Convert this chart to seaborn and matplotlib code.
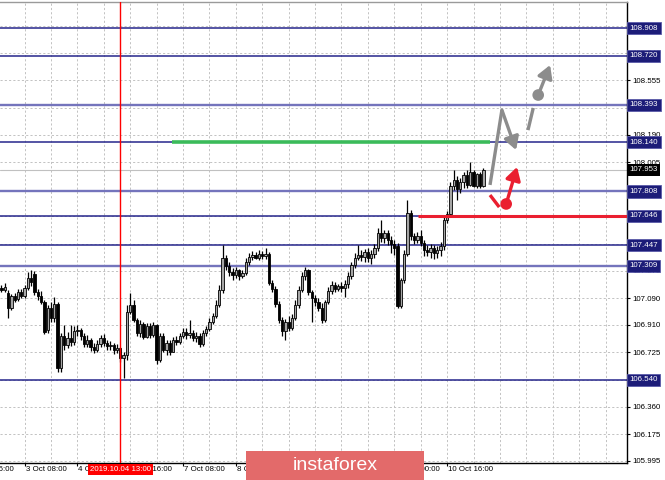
import numpy as np
import pandas as pd
import matplotlib
matplotlib.use("Agg")
import matplotlib.pyplot as plt
from matplotlib.patches import Rectangle
import seaborn as sns

# USDJPY H1 candles, 3 Oct 01:00 .. 11 Oct 03:00
first_bar = "2019-10-03 01:00"
opens = [
    107.159, 107.145, 107.125, 107.024, 107.105, 107.085, 107.132, 107.105, 107.159, 107.226,
    107.253, 107.132, 107.105, 107.064, 106.876, 107.024, 106.957, 107.051, 106.621, 106.836,
    106.775, 106.822, 106.795, 106.870, 106.876, 106.836, 106.782, 106.809, 106.762, 106.742,
    106.782, 106.822, 106.789, 106.769, 106.775, 106.742, 106.755, 106.688, 106.708, 106.997,
    107.044, 106.944, 106.856, 106.917, 106.829, 106.903, 106.843, 106.910, 106.674, 106.836,
    106.742, 106.789, 106.728, 106.809, 106.795, 106.836, 106.863, 106.843, 106.856, 106.822,
    106.836, 106.782, 106.856, 106.883, 106.930, 106.970, 107.044, 107.145, 107.361, 107.307,
    107.266, 107.246, 107.280, 107.239, 107.260, 107.334, 107.367, 107.381, 107.361, 107.387,
    107.374, 107.387, 107.192, 107.152, 107.051, 106.944, 106.870, 106.930, 106.890, 106.957,
    107.044, 107.145, 107.239, 107.280, 107.132, 107.091, 107.064, 107.024, 106.944, 107.064,
    107.138, 107.179, 107.152, 107.172, 107.159, 107.186, 107.239, 107.313, 107.361, 107.381,
    107.367, 107.401, 107.361, 107.387, 107.428, 107.528, 107.495, 107.528, 107.482, 107.455,
    107.441, 107.038, 107.213, 107.387, 107.663, 107.508, 107.482, 107.508, 107.461, 107.414,
    107.401, 107.428, 107.394, 107.414, 107.441, 107.616, 107.656, 107.845, 107.885, 107.825,
    107.872, 107.919, 107.852, 107.939, 107.845, 107.926, 107.845,
]
highs = [
    107.179, 107.192, 107.145, 107.118, 107.125, 107.152, 107.152, 107.179, 107.266, 107.280,
    107.273, 107.152, 107.138, 107.078, 107.044, 107.064, 107.098, 107.064, 106.856, 106.910,
    106.863, 106.910, 106.903, 106.910, 106.890, 106.856, 106.843, 106.822, 106.789, 106.809,
    106.843, 106.849, 106.809, 106.802, 106.789, 106.782, 106.762, 106.728, 107.044, 107.125,
    107.078, 106.957, 106.944, 106.930, 106.923, 106.923, 106.930, 106.917, 106.856, 106.856,
    106.809, 106.809, 106.829, 106.836, 106.856, 106.890, 106.890, 106.944, 106.876, 106.863,
    106.856, 106.876, 106.903, 106.957, 106.991, 107.078, 107.179, 107.448, 107.381, 107.334,
    107.293, 107.300, 107.287, 107.280, 107.361, 107.394, 107.408, 107.401, 107.414, 107.408,
    107.428, 107.401, 107.213, 107.172, 107.071, 106.964, 106.950, 106.970, 106.984, 107.078,
    107.172, 107.266, 107.300, 107.287, 107.145, 107.112, 107.091, 107.058, 107.078, 107.165,
    107.206, 107.199, 107.186, 107.199, 107.213, 107.266, 107.334, 107.394, 107.448, 107.414,
    107.421, 107.428, 107.414, 107.455, 107.562, 107.616, 107.549, 107.549, 107.508, 107.482,
    107.461, 107.226, 107.414, 107.751, 107.683, 107.528, 107.535, 107.549, 107.482, 107.448,
    107.455, 107.448, 107.441, 107.468, 107.636, 107.677, 107.872, 107.953, 107.912, 107.899,
    107.939, 107.953, 108.006, 107.953, 107.932, 107.939, 107.966,
]
lows = [
    107.132, 107.132, 106.957, 107.011, 107.064, 107.071, 107.091, 107.091, 107.145, 107.172,
    107.112, 107.078, 107.051, 106.849, 106.856, 106.930, 106.930, 106.594, 106.594, 106.742,
    106.755, 106.769, 106.775, 106.836, 106.809, 106.762, 106.762, 106.735, 106.721, 106.728,
    106.762, 106.769, 106.742, 106.742, 106.715, 106.721, 106.661, 106.553, 106.674, 106.984,
    106.930, 106.836, 106.829, 106.816, 106.822, 106.822, 106.829, 106.647, 106.661, 106.728,
    106.708, 106.708, 106.728, 106.775, 106.782, 106.822, 106.816, 106.822, 106.802, 106.795,
    106.762, 106.769, 106.836, 106.870, 106.917, 106.957, 107.031, 107.125, 107.280, 107.239,
    107.213, 107.226, 107.213, 107.226, 107.246, 107.313, 107.347, 107.354, 107.347, 107.354,
    107.354, 107.179, 107.132, 107.031, 106.923, 106.836, 106.809, 106.870, 106.876, 106.944,
    107.024, 107.132, 107.213, 107.112, 106.930, 107.038, 107.004, 106.923, 106.930, 107.051,
    107.118, 107.132, 107.138, 107.132, 107.098, 107.159, 107.219, 107.293, 107.347, 107.340,
    107.334, 107.334, 107.320, 107.361, 107.408, 107.468, 107.461, 107.448, 107.394, 107.381,
    107.024, 107.024, 107.192, 107.374, 107.482, 107.455, 107.461, 107.441, 107.374, 107.374,
    107.361, 107.354, 107.361, 107.374, 107.414, 107.596, 107.636, 107.818, 107.751, 107.798,
    107.831, 107.831, 107.845, 107.838, 107.831, 107.831, 107.838,
]
closes = [
    107.145, 107.165, 107.024, 107.105, 107.078, 107.132, 107.105, 107.159, 107.226, 107.199,
    107.132, 107.105, 107.064, 106.863, 107.024, 106.957, 107.051, 106.621, 106.836, 106.775,
    106.822, 106.795, 106.870, 106.876, 106.836, 106.782, 106.809, 106.762, 106.742, 106.782,
    106.822, 106.789, 106.769, 106.775, 106.742, 106.755, 106.688, 106.708, 106.997, 107.044,
    106.944, 106.856, 106.917, 106.829, 106.903, 106.843, 106.910, 106.674, 106.836, 106.742,
    106.789, 106.728, 106.809, 106.795, 106.836, 106.863, 106.843, 106.856, 106.822, 106.836,
    106.782, 106.856, 106.883, 106.930, 106.970, 107.044, 107.145, 107.361, 107.307, 107.266,
    107.246, 107.280, 107.239, 107.260, 107.334, 107.367, 107.381, 107.361, 107.387, 107.374,
    107.387, 107.192, 107.152, 107.051, 106.944, 106.870, 106.930, 106.890, 106.957, 107.044,
    107.145, 107.239, 107.280, 107.132, 107.091, 107.064, 107.024, 106.944, 107.064, 107.138,
    107.179, 107.152, 107.172, 107.159, 107.186, 107.239, 107.313, 107.361, 107.381, 107.367,
    107.401, 107.361, 107.387, 107.428, 107.528, 107.495, 107.528, 107.482, 107.455, 107.428,
    107.038, 107.213, 107.387, 107.663, 107.508, 107.482, 107.508, 107.461, 107.414, 107.401,
    107.428, 107.394, 107.414, 107.441, 107.616, 107.656, 107.845, 107.885, 107.825, 107.872,
    107.919, 107.852, 107.939, 107.845, 107.926, 107.845, 107.953,
]

# horizontal levels drawn on the chart
levels_dark = [108.908, 108.720, 108.140, 107.646, 107.447, 106.540]
levels_light = [108.393, 107.808, 107.309]
bid_price = 107.953
green_level = 108.140
red_level = 107.640
price_ticks = [105.995, 106.175, 106.360, 106.540, 106.725, 106.910, 107.090, 107.275,
               107.455, 107.640, 107.820, 108.005, 108.190, 108.370, 108.555, 108.740, 108.920]
cross_time = "2019-10-04 13:00"

# forecast arrows, (bar, price)
grey_zigzag = [(148.0, 107.852), (151.6, 108.356), (155.9, 108.087)]
grey_dash = [(159.5, 108.221), (161.1, 108.370)]
grey_dot, grey_tip = (162.6, 108.457), (166.2, 108.659)
red_dash = [(148.0, 107.784), (150.8, 107.703)]
red_dot, red_tip = (152.9, 107.724), (156.2, 107.973)

sns.set_theme(style="white")
plt.rcParams['font.family'] = ['Liberation Sans', 'DejaVu Sans']
FS = 5.7
GREY = "#8c8c8c"
RED = "#ea1f30"

fig = plt.figure(figsize=(6.65, 4.8), dpi=100)
ax = fig.add_axes([0, 17 / 480, 627 / 665, 461 / 480])
ax.set_facecolor("white")

# hourly time axis without weekends
hours = pd.date_range("2019-10-02 16:00", periods=400, freq="h")
hours = hours[hours.dayofweek < 5]
shift = hours.get_loc(pd.Timestamp(first_bar))
n = len(closes)
xs = np.arange(n)

x_max = 189.5
grid_pos = np.arange(-shift, x_max, 8)
label_pos = np.arange(-shift, n, 16)

for g in grid_pos:
    ax.axvline(g, color="#c2c2c2", lw=0.7, ls=(0, (2.2, 2.2)), zorder=0.5)
for p in price_ticks:
    ax.axhline(p, color="#c2c2c2", lw=0.7, ls=(0, (2.2, 2.2)), zorder=0.5)

for lv in levels_dark:
    ax.axhline(lv, color="#26268c", lw=1.1, zorder=2)
for lv in levels_light:
    ax.axhline(lv, color="#7474bc", lw=1.7, zorder=2)
ax.axhline(bid_price, color="#c0c0c0", lw=0.8, zorder=2)

# candles
o = np.array(opens)
c = np.array(closes)
up = c >= o
ax.vlines(xs, lows, highs, color="black", lw=0.9, zorder=3)
ax.bar(xs[up], np.maximum(c - o, 0.002)[up], bottom=o[up], width=0.7,
       color="#a6a6a6", edgecolor="black", lw=0.6, zorder=4)
ax.bar(xs[~up], (o - c)[~up], bottom=c[~up], width=0.7,
       color="black", edgecolor="black", lw=0.6, zorder=4)

# crosshair
cross_x = hours.get_loc(pd.Timestamp(cross_time)) - shift
ax.axvline(cross_x, color="red", lw=1.0, zorder=5)

# support / resistance marks
ax.hlines(green_level, 51.6, 148, color="#3bbb5a", lw=2.6, zorder=5)
ax.hlines(red_level, 126.2, x_max, color=RED, lw=2.2, zorder=5)

# forecast arrows
zx, zy = zip(*grey_zigzag[:2])
ax.plot(zx, zy, color=GREY, lw=2.4, solid_capstyle="butt", zorder=6)
arrow = dict(arrowstyle="-|>,head_length=0.55,head_width=0.32", lw=2.4,
             shrinkA=0, shrinkB=0, mutation_scale=14)
ax.annotate("", xy=grey_zigzag[2], xytext=grey_zigzag[1],
            arrowprops=dict(color=GREY, **arrow), zorder=6)
dx, dy = zip(*grey_dash)
ax.plot(dx, dy, color=GREY, lw=2.4, solid_capstyle="butt", zorder=6)
ax.annotate("", xy=grey_tip, xytext=grey_dot,
            arrowprops=dict(color=GREY, **arrow), zorder=6)
rx, ry = zip(*red_dash)
ax.plot(rx, ry, color=RED, lw=2.4, solid_capstyle="butt", zorder=6)
ax.annotate("", xy=red_tip, xytext=red_dot,
            arrowprops=dict(color=RED, **arrow), zorder=6)
dots = pd.DataFrame({"x": [grey_dot[0], red_dot[0]], "y": [grey_dot[1], red_dot[1]],
                     "kind": ["grey", "red"]})
sns.scatterplot(data=dots, x="x", y="y", hue="kind", palette={"grey": GREY, "red": RED},
                s=70, edgecolor="none", legend=False, ax=ax, zorder=7)

ax.set_xlim(-0.45, x_max)
ax.set_ylim(105.981, 109.083)
ax.set_xlabel("")
ax.set_ylabel("")

# axes frame like the terminal
ax.spines["left"].set_visible(False)
ax.spines["top"].set_color("#9a9a9a")
ax.spines["right"].set_color("black")
ax.spines["bottom"].set_color("black")
for side in ["right", "bottom", "top"]:
    ax.spines[side].set_linewidth(1.0)

ax.yaxis.tick_right()
ax.set_yticks(price_ticks)
ax.set_yticklabels([f"{p:.3f}" for p in price_ticks])
ax.tick_params(axis="y", length=2.5, width=0.8, pad=1.5, labelsize=FS, colors="black",
               direction="out", right=True, left=False)
ax.set_xticks([p for p in label_pos if p >= 0])
ax.set_xticklabels([])
ax.tick_params(axis="x", length=2.5, width=0.8, direction="out", bottom=True, colors="black")

for p in label_pos:
    t = hours[p + shift]
    ax.text(p + 0.3, -0.006, f"{t.day} {t:%b %H:%M}", transform=ax.get_xaxis_transform(),
            ha="left", va="top", fontsize=FS, color="black", clip_on=False, zorder=8)

ct = pd.Timestamp(cross_time)
ax.text(cross_x, -0.006, f"{ct:%Y.%m.%d %H:%M}", transform=ax.get_xaxis_transform(),
        ha="center", va="top", fontsize=FS, color="white", clip_on=False, zorder=9,
        bbox=dict(boxstyle="square,pad=0.25", facecolor="#ff0000", edgecolor="none"))

# price labels on the right scale
for lv in levels_dark + levels_light:
    ax.text(1.004, lv, f"{lv:.3f}", transform=ax.get_yaxis_transform(), ha="left",
            va="center", fontsize=FS, color="white", clip_on=False, zorder=9,
            bbox=dict(boxstyle="square,pad=0.32", facecolor="#1c1c78", edgecolor="#5a5aa8", lw=0.6))
ax.text(1.004, bid_price, f"{bid_price:.3f}", transform=ax.get_yaxis_transform(), ha="left",
        va="center", fontsize=FS, color="white", clip_on=False, zorder=9,
        bbox=dict(boxstyle="square,pad=0.32", facecolor="black", edgecolor="none"))

# watermark
fig.add_artist(Rectangle((246 / 665, 0), 178 / 665, 29 / 480, transform=fig.transFigure,
                         facecolor="#e36a6a", edgecolor="none", zorder=20))
fig.text(335 / 665, 14 / 480, "instaforex", color="white", fontsize=14,
         ha="center", va="center", zorder=21)

fig.savefig("out.png", dpi=100)
